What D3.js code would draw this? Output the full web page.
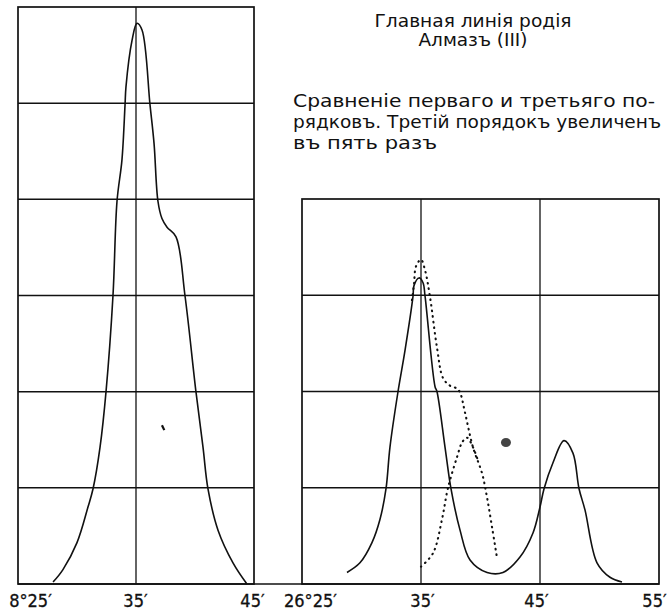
<!DOCTYPE html>
<html>
<head>
<meta charset="utf-8">
<script src="https://cdn.jsdelivr.net/npm/d3@7"></script>
<style>
  body { margin: 0; background: #fff; }
  text { fill: #111; font-family: "DejaVu Sans Condensed", "DejaVu Sans", sans-serif; }
</style>
</head>
<body>
<svg id="chart" width="669" height="614"></svg>
<script>
// readings off the plate: [minutes of arc, intensity in grid units]
const firstOrderLeft = [
  [27.97, 0.02], [28.81, 0.15], [30.0, 0.43], [30.93, 0.80], [31.36, 0.99],
  [31.95, 1.42], [32.46, 2.0], [33.05, 3.0], [33.39, 3.98], [33.81, 4.41],
  [34.07, 4.98], [34.15, 5.17], [34.66, 5.65], [35.08, 5.83], [35.51, 5.76],
  [36.19, 4.98], [36.53, 4.58], [36.86, 3.98], [37.2, 3.80], [37.63, 3.71],
  [38.39, 3.61], [39.15, 3.0], [40.08, 2.0], [40.68, 1.42], [41.1, 0.99],
  [41.95, 0.56], [43.22, 0.22], [44.4, 0.0]
]

const firstOrderRight = [
  [28.78, 0.12], [29.87, 0.22], [30.88, 0.43], [31.55, 0.67], [32.06, 0.99],
  [32.39, 1.42], [33.07, 2.0], [33.66, 2.43], [34.33, 2.99], [34.41, 3.10],
  [34.83, 3.18], [35.17, 3.13], [35.34, 2.99], [36.18, 2.05], [36.34, 2.0],
  [37.02, 1.42], [37.52, 0.99], [38.28, 0.56], [39.12, 0.25], [40.55, 0.12],
  [41.89, 0.12], [43.32, 0.28], [44.41, 0.53], [45.0, 0.80], [45.34, 0.99],
  [46.09, 1.26], [47.02, 1.49], [47.77, 1.36], [48.28, 0.99], [48.78, 0.77],
  [49.79, 0.22], [50.88, 0.07], [51.89, 0.02]
]

// third order, x5
const thirdOrderA = [
  [34.24, 2.95], [34.41, 3.11], [34.58, 3.30], [35.0, 3.37], [35.34, 3.26],
  [35.76, 2.98], [36.34, 2.46], [36.85, 2.14], [37.44, 2.06], [38.03, 2.03],
  [38.28, 1.99], [38.70, 1.78], [39.37, 1.42], [40.13, 1.15], [40.55, 0.90],
  [40.97, 0.59], [41.39, 0.27]
]
const thirdOrderB = [
  [35.0, 0.18], [36.01, 0.32], [36.76, 0.67], [37.18, 0.95], [37.44, 1.08],
  [38.03, 1.32], [38.45, 1.47], [38.87, 1.52], [39.37, 1.42], [39.85, 1.26]
]

const leftTicks = [25, 35, 45]
const leftTickLabels = ["8°25′", "35′", "45′"]
const rightTicks = [25, 35, 45, 55]
const rightTickLabels = ["26°25′", "35′", "45′", "55′"]
const leftRows = [1, 2, 3, 4, 5]
const rightRows = [1, 2, 3]

const titleLines = ["Главная линія родія", "Алмазъ (III)"]
const noteLines = [
  "Сравненіе перваго и третьяго по-",
  "рядковъ. Третій порядокъ увеличенъ",
  "въ пять разъ"
]

const svg = d3.select('#chart')
const ink = '#111'

const xL = d3.scaleLinear().domain([25, 45]).range([18, 254])
const yL = d3.scaleLinear().domain([0, 6]).range([584, 7])
const xR = d3.scaleLinear().domain([25, 55]).range([302, 659])
const yR = d3.scaleLinear().domain([0, 4]).range([584, 199])

function panel(x, y, rows, ticks, labels, labelDx) {
  const g = svg.append('g')
  const [x0, x1] = x.range()
  const [y0, y1] = y.range()

  g.selectAll('.row')
    .data(rows)
    .join('line')
    .attr('x1', x0).attr('x2', x1)
    .attr('y1', d => y(d)).attr('y2', d => y(d))
    .attr('stroke', ink).attr('stroke-width', 1.5)

  g.selectAll('.col')
    .data(ticks.slice(1, -1))
    .join('line')
    .attr('x1', d => x(d)).attr('x2', d => x(d))
    .attr('y1', y0).attr('y2', y1)
    .attr('stroke', ink).attr('stroke-width', 1.3)

  g.append('rect')
    .attr('x', x0).attr('y', y1)
    .attr('width', x1 - x0).attr('height', y0 - y1)
    .attr('fill', 'none').attr('stroke', ink).attr('stroke-width', 1.7)

  const axis = d3.axisBottom(x)
    .tickValues(ticks)
    .tickSize(0)
    .tickFormat((d, i) => labels[i])
  const ax = g.append('g')
    .attr('transform', `translate(0,${y0})`)
    .call(axis)
  ax.select('.domain').remove()
  ax.selectAll('text')
    .attr('y', 23)
    .attr('dy', 0)
    .attr('dx', (d, i) => labelDx[i] || 0)
    .style('font-size', '18px')
    .style('font-family', '"DejaVu Sans Condensed", sans-serif')
    .attr('fill', ink)
    .attr('stroke', ink).attr('stroke-width', 0.3)
  return g
}

panel(xL, yL, leftRows, leftTicks, leftTickLabels, [12, -1, -2])
panel(xR, yR, rightRows, rightTicks, rightTickLabels, [8, 1, -4, -5])

// common base line runs across both frames
svg.append('line')
  .attr('x1', xL.range()[0]).attr('x2', xR.range()[1])
  .attr('y1', yL(0)).attr('y2', yL(0))
  .attr('stroke', ink).attr('stroke-width', 1.7)

const lineL = d3.line().x(d => xL(d[0])).y(d => yL(d[1])).curve(d3.curveCatmullRom.alpha(0.5))
const lineR = d3.line().x(d => xR(d[0])).y(d => yR(d[1])).curve(d3.curveCatmullRom.alpha(0.5))

svg.append('path').attr('d', lineL(firstOrderLeft))
  .attr('fill', 'none').attr('stroke', ink).attr('stroke-width', 1.6)

svg.append('path').attr('d', lineR(firstOrderRight))
  .attr('fill', 'none').attr('stroke', ink).attr('stroke-width', 1.6)

svg.selectAll('.dotted')
  .data([thirdOrderA, thirdOrderB])
  .join('path')
  .attr('d', d => lineR(d))
  .attr('fill', 'none').attr('stroke', ink)
  .attr('stroke-width', 2.1)
  .attr('stroke-linecap', 'round')
  .attr('stroke-dasharray', '0.6,5')

// specks on the plate
svg.append('ellipse')
  .attr('cx', xR(42.14)).attr('cy', yR(1.47))
  .attr('rx', 5).attr('ry', 4.5).attr('fill', '#444')
svg.append('line')
  .attr('x1', xL(37.2)).attr('y1', yL(1.65))
  .attr('x2', xL(37.4)).attr('y2', yL(1.6))
  .attr('stroke', ink).attr('stroke-width', 2.2)

const title = svg.append('g')
title.selectAll('text')
  .data(titleLines)
  .join('text')
  .attr('x', 473)
  .attr('y', (d, i) => 27 + i * 19)
  .attr('text-anchor', 'middle')
  .attr('textLength', (d, i) => [197, 109][i])
  .attr('lengthAdjust', 'spacingAndGlyphs')
  .style('font-size', '18px')
  .text(d => d)

const note = svg.append('g')
note.selectAll('text')
  .data(noteLines)
  .join('text')
  .attr('x', 293)
  .attr('y', (d, i) => 107 + i * 21)
  .attr('textLength', (d, i) => [362, 368, 144][i])
  .attr('lengthAdjust', 'spacingAndGlyphs')
  .style('font-size', '18px')
  .text(d => d)
</script>
</body>
</html>
